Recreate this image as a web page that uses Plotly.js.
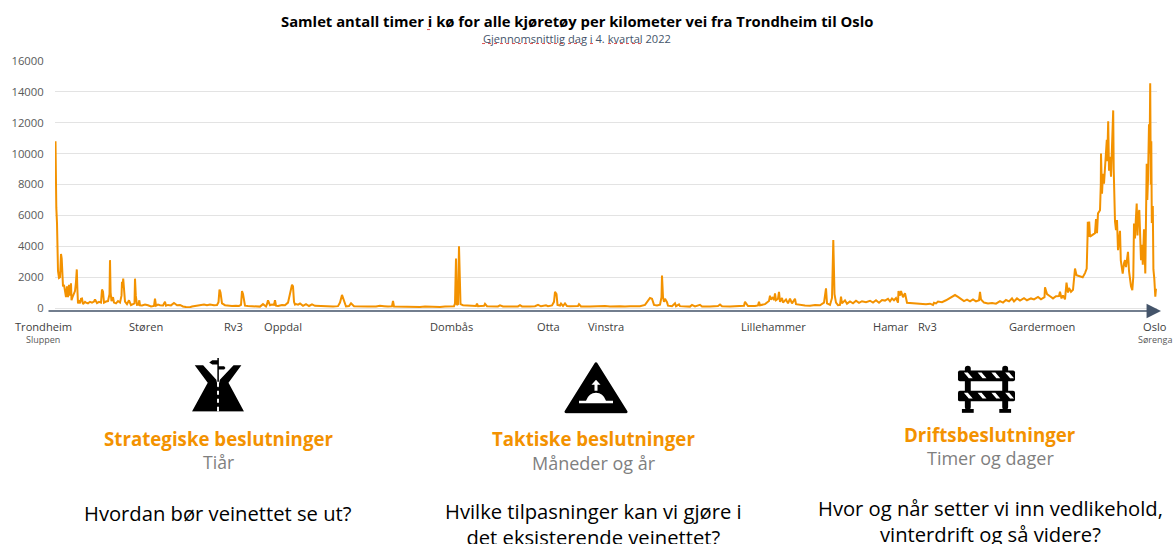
<!DOCTYPE html>
<html><head><meta charset="utf-8">
<script src="https://cdn.plot.ly/plotly-3.0.1.min.js"></script>
<style>html,body{margin:0;padding:0;background:#fff;overflow:hidden}#c{width:1173px;height:544px}</style>
</head><body><div id="c"></div>
<script>
// [position along the road, hours in queue]
const trondheimToOppdal = [[55.5,10800],[55.8,8000],[56.3,6500],[57,5500],[57.5,3000],[58,2400],[59,1950],[60,2000],[60.5,2700],[61,3500],[61.7,3200],[62.3,1800],[63,1400],[64,1500],[65,900],[66,700],[67,1400],[68,700],[69,1500],[70,800],[71,1600],[71.5,500],[72.5,700],[74,900],[75,1100],[76,1700],[76.8,2500],[77.5,1000],[78,300],[79,500],[80,300],[81,600],[82,620],[83,250],[84,350],[85,400],[86,350],[88,300],[90,400],[92,350],[94,420],[95,550],[97,320],[99,400],[101,350],[102,1200],[103,1050],[104,350],[106,420],[108,450],[109.5,900],[110,3100],[110.6,1000],[111.5,450],[113,700],[114,350],[116,300],[118,450],[120,350],[121.5,800],[122,1700],[122.6,1300],[123.2,1900],[124,900],[125,420],[127,250],[129,500],[131,180],[133,220],[134.5,300],[135,1900],[135.8,800],[137,200],[138.5,220],[139.3,500],[140,180],[142,170],[145,220],[148,180],[151,100],[154,130],[155,600],[156,150],[158,220],[160,180],[163,160],[165,400],[166,150],[168,200],[171,170],[174,330],[177,180],[180,200],[183,100],[186,60],[188,40],[190,50],[192,100],[195,130],[198,160],[201,180],[204,230],[207,180],[210,230],[214,180],[217,190],[218.5,380],[219.5,1200],[220.5,1000],[222,300],[225,180],[228,150],[232,130],[236,150],[239,130],[241,200],[242,1100],[243,900],[245,150],[248,130],[252,120],[256,110],[260,90],[263,250],[265,180],[266,100],[267,250],[268,500],[270,180],[272,220],[274,200],[275,500],[276,150],[278,130],[282,200],[285,180],[288,350],[290,900],[292,1500],[293,1400],[294,400],[295,220],[296,250],[298,220],[300,290]];
const oppdalToOtta = [[303,140],[306,250],[309,130],[312,240],[315,140],[320,120],[326,100],[333,90],[338,120],[340,350],[342,850],[344,500],[346,100],[349,130],[351,300],[354,110],[360,90],[368,90],[376,100],[380,150],[384,120],[388,90],[392,110],[393,450],[394,100],[400,90],[405,110],[410,70],[415,100],[420,70],[425,100],[430,80],[435,100],[440,70],[445,100],[450,90],[454,110],[455,300],[456,3200],[456.8,200],[458,250],[459,4000],[459.7,900],[460.5,250],[463,180],[470,150],[476,130],[477,280],[478,120],[484,140],[485,270],[487,120],[495,120],[498,100],[500,170],[503,100],[510,90],[518,100],[520,180],[522,100],[530,100],[535,120],[538,210],[541,110],[546,180],[548,120],[552,170],[554,400],[555,1050],[556.5,900],[557.5,200],[560,160],[561,290],[563,130],[565,300],[567,130],[570,120],[578,130],[579,250],[581,100]];
const ottaToLillehammer = [[590,90],[595,110],[600,90],[605,130],[610,100],[615,130],[620,120],[625,100],[630,120],[640,110],[645,200],[650,650],[652,600],[654,200],[657,160],[660,220],[661.5,700],[662,2100],[663,700],[664,400],[665,600],[667,380],[668,150],[672,120],[675,300],[676,120],[679,240],[680,120],[685,100],[690,90],[692,200],[695,100],[700,210],[702,100],[710,90],[718,130],[720,230],[722,110],[730,100],[738,110],[744,140],[745,400],[746,300],[748,130],[755,130],[758,170],[759,400],[760,180],[765,250],[769,450],[770,800],[771,550],[773,700],[774,500],[775,950],[776,500],[778,600],[779,1050],[780,400],[782,650],[783,350],[786,550],[788,300],[790,600],[792,300],[795,600],[796,250],[800,200],[805,170],[810,150],[815,200],[820,180],[824,350],[826,1270],[827,300],[830,200],[832,650],[833.3,4400],[834.5,900],[836,350],[838,180],[840,200],[841,730],[842,300],[845,500],[847,280],[850,420],[853,300],[856,470],[859,330],[862,440],[866,380],[870,470],[873,350],[876,500],[879,340],[882,520],[885,480],[888,600],[890,430],[892,620],[894,500],[896,640],[898,350],[898.5,1100],[900,800],[901,1100],[903,700],[905,950],[907,340]];
const hamarToGardermoen = [[910,330],[914,310],[918,280],[922,300],[926,240],[930,280],[933,200],[934,340],[936,300],[938,420],[942,380],[946,500],[950,640],[955,840],[958,720],[961,600],[964,450],[967,540],[970,430],[973,560],[976,430],[979,500],[980,1050],[981,550],[984,350],[988,300],[992,330],[996,280],[1000,440],[1003,350],[1006,520],[1009,430],[1012,620],[1014,420],[1017,620],[1020,480],[1024,640],[1027,500],[1031,620],[1034,560],[1038,720],[1041,560],[1044.5,700],[1045,1340],[1047,900],[1050,760],[1053,620],[1056,760],[1059,780],[1060,1050],[1061.5,620],[1063,820],[1065,560],[1066.5,1640],[1068,1000],[1069,1300],[1071,1050],[1073,1180],[1075,2560]];
const gardermoenToOslo = [[1076.5,2130],[1080,2060],[1082.7,1990],[1085,2260],[1086.7,2560],[1087.5,4500],[1087.8,5580],[1088.4,4610],[1089.2,5600],[1090,4620],[1092,4700],[1095,4850],[1096,5760],[1097,4850],[1098,6130],[1100,6330],[1100.8,8000],[1101,10000],[1102,7400],[1103,8700],[1104,8050],[1105,9200],[1106,10300],[1106.8,10900],[1107.2,9500],[1108.2,12100],[1109,8900],[1110,9800],[1111,8500],[1112,10400],[1113.2,12800],[1113.7,9000],[1114.3,6800],[1115,5600],[1116,5050],[1117,5700],[1118,3750],[1119,4300],[1120,5000],[1120.8,3090],[1122.7,2230],[1124,2900],[1125,3100],[1126,2650],[1128,3640],[1129,2400],[1130,1900],[1131,1400],[1132.3,1160],[1133.3,2030],[1134,5480],[1135,4500],[1135.8,5700],[1136.7,6770],[1137.5,4700],[1138.2,6000],[1139.3,6350],[1140,4000],[1141,3100],[1142,4100],[1142.8,2800],[1144,5100],[1145.3,2230],[1146.7,9350],[1147.3,7000],[1148,8300],[1149,11900],[1149.6,10000],[1150.2,14550],[1150.8,8000],[1151.3,10800],[1151.8,5500],[1152.8,6600],[1153.4,2500],[1154.3,1900],[1155.3,730],[1156,1250]];

const townNames = ["Trondheim","Støren","Rv3","Oppdal","Dombås","Otta","Vinstra","Lillehammer","Hamar","Rv3","Gardermoen","Oslo"];
const townPos = [43,146,233,283,451,548,606,773,891,927,1042,1155];
const subNames = ["Sluppen","Sørenga"];
const subPos = [43,1155];
const tickVals = [0,2000,4000,6000,8000,10000,12000,14000,16000];

const chartTitle = "Samlet antall timer i kø for alle kjøretøy per kilometer vei fra Trondheim til Oslo";
const chartSub = "Gjennomsnittlig dag i 4. kvartal 2022";
// spell-check underlines in the source: [from, to, height]
const squiggles = [[427,432,29],[482,565,43],[568,582,43],[590,593,43],[608,643,43]];

const roadIcon = `<svg xmlns="http://www.w3.org/2000/svg" viewBox="0 0 51.3 54"><path fill="#000" d="M2.7 7.3 L11 7.3 L24 22 L25.7 30 L27.5 22 L41 7.3 L48.7 7.3 L36 25 L51.3 53.7 L0 53.7 L15.5 25 Z"/><path fill="#fff" d="M24.7 24 h1.9 v5 h-1.9 Z M24.7 33 h1.9 v4 h-1.9 Z M24.7 41 h1.9 v4 h-1.9 Z M24.7 49 h1.9 v4.7 h-1.9 Z"/><path fill="#000" d="M25 0 h1.5 v24 h-1.5 Z M17 4.5 L20 2.3 L25.3 2.3 L25.3 6.7 L20 6.7 Z M26 8.3 L31.7 8.3 L33 10 L31.7 11.7 L26 11.7 Z"/></svg>`;
const bumpIcon = `<svg xmlns="http://www.w3.org/2000/svg" viewBox="0 0 64 52"><path fill="#000" stroke="#000" stroke-width="3" stroke-linejoin="round" d="M32 2 L62 50 L2 50 Z"/><path fill="#fff" d="M15 39 H22 Q25 31 32 31 Q39 31 42 39 H49 V41.5 H15 Z M30.5 29 V23 H27.5 L32 18 L36.5 23 H33.5 V29 Z"/></svg>`;
const stripes = [0,14,28,42].map(x => `<path fill="#fff" d="M${x+7} 9 h4 l5 6 h-4 Z M${x+7} 30 h4 l5 6 h-4 Z"/>`).join("");
const barrierIcon = `<svg xmlns="http://www.w3.org/2000/svg" viewBox="0 0 60 52"><g fill="#000"><rect x="8" y="2" width="6" height="46" rx="3"/><rect x="46" y="2" width="6" height="46" rx="3"/><rect x="5" y="47" width="12" height="4"/><rect x="43" y="47" width="12" height="4"/><rect x="1" y="7" width="58" height="11" rx="2"/><rect x="1" y="28" width="58" height="11" rx="2"/></g>${stripes}</svg>`;
const uri = s => "data:image/svg+xml;base64," + btoa(s);

const L=55,R=1157,T=60.5,B=308,W=1173,H=544;
const px = x => (x-L)/(R-L);
const py = y => (B-y)/(B-T);
const FONT = "Open Sans, sans-serif";
const note = (x,y,text,size,color,bold) => ({xref:"paper",yref:"paper",x:px(x),y:py(y),text:bold?`<b>${text}</b>`:text,showarrow:false,xanchor:"center",yanchor:"middle",font:{family:FONT,size:size,color:color}});
const img = (svg,x,y,w,h) => ({source:uri(svg),xref:"paper",yref:"paper",x:px(x),y:py(y),sizex:w/(R-L),sizey:h/(B-T),sizing:"stretch",xanchor:"left",yanchor:"top",layer:"above"});

const road = [].concat(trondheimToOppdal,oppdalToOtta,ottaToLillehammer,hamarToGardermoen,gardermoenToOslo);
const ORANGE="#F39200";
const annotations = [
  note(576.5,20.5,chartTitle,14.8,"#000",true),
  note(576.5,37.5,chartSub,11.1,"#44546A",false),
  ...townNames.map((n,i)=>note(townPos[i],327,n,11.1,"#404040",false)),
  ...subNames.map((n,i)=>note(subPos[i],340,n,9,"#595959",false)),
  note(218,439,"Strategiske beslutninger",18.7,ORANGE,true),
  note(218,462,"Tiår",17.6,"#7F7F7F",false),
  note(218,513,"Hvordan bør veinettet se ut?",20.2,"#000",false),
  note(593.5,439,"Taktiske beslutninger",18.7,ORANGE,true),
  note(593.5,463,"Måneder og år",18,"#7F7F7F",false),
  note(593.5,524.5,"Hvilke tilpasninger kan vi gjøre i<br>det eksisterende veinettet?",20.2,"#000",false),
  note(990,435,"Driftsbeslutninger",18.7,ORANGE,true),
  note(990,458,"Timer og dager",18,"#7F7F7F",false),
  note(990,521,"Hvor og når setter vi inn vedlikehold,<br>vinterdrift og så videre?",20.2,"#000",false),
  {xref:"paper",yref:"paper",x:px(1161),y:py(311),ax:-1114,ay:0,text:"",showarrow:true,arrowhead:2,arrowsize:1.7,arrowwidth:1.7,arrowcolor:"#44546A",standoff:0}
];
const shapes = squiggles.map(s => ({type:"line",xref:"paper",yref:"paper",x0:px(s[0]),x1:px(s[1]),y0:py(s[2]),y1:py(s[2]),line:{color:"#E05050",width:1,dash:"dot"}}));

Plotly.newPlot("c",[{
  type:"scatter",mode:"lines",x:road.map(p=>p[0]),y:road.map(p=>p[1]),
  line:{color:ORANGE,width:2,shape:"linear"},hoverinfo:"x+y",cliponaxis:false
}],{
  width:W,height:H,autosize:false,showlegend:false,
  paper_bgcolor:"#fff",plot_bgcolor:"#fff",
  margin:{l:L,r:W-R,t:T,b:H-B,pad:0},
  xaxis:{range:[L,R],visible:false,fixedrange:true},
  yaxis:{range:[0,16000],tickvals:tickVals,ticktext:tickVals.map(String),showgrid:true,gridcolor:"#E3E3E3",gridwidth:1,
    zeroline:true,zerolinecolor:"#E3E3E3",zerolinewidth:1,showline:false,ticks:"outside",ticklen:8,tickcolor:"rgba(0,0,0,0)",
    tickfont:{family:FONT,size:11.3,color:"#595959"},fixedrange:true},
  annotations:annotations,shapes:shapes,
  images:[img(roadIcon,192,358,52,54),img(bumpIcon,564,362,64,52),img(barrierIcon,957,364,59,50)]
},{displayModeBar:false,staticPlot:true});
</script></body></html>
